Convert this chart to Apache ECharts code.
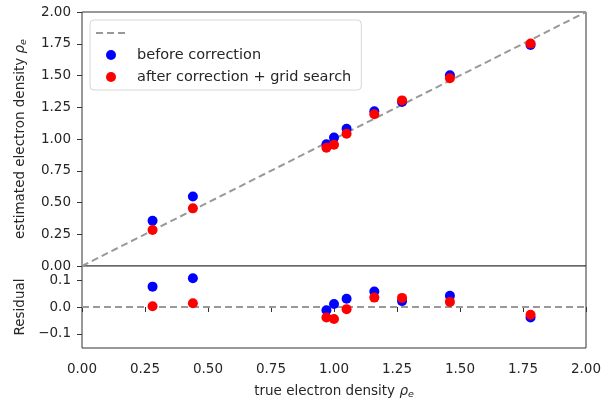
<!DOCTYPE html>
<html>
<head>
<meta charset="utf-8">
<script src="https://cdn.jsdelivr.net/npm/echarts@6/dist/echarts.min.js"></script>
<style>
  html, body { margin: 0; padding: 0; background: #fff; }
  #main { width: 609px; height: 401px; }
</style>
</head>
<body>
<div id="main"></div>
<script>
  // true electron density of each sample
  const trueDensity = [0.28, 0.44, 0.97, 1.00, 1.05, 1.16, 1.27, 1.46, 1.78]
  // estimated density
  const estBefore = [0.356, 0.547, 0.958, 1.011, 1.081, 1.218, 1.292, 1.502, 1.741]
  const estAfter = [0.283, 0.454, 0.931, 0.955, 1.042, 1.195, 1.304, 1.479, 1.751]
  // residuals
  const resBefore = [0.076, 0.107, -0.012, 0.011, 0.031, 0.058, 0.022, 0.042, -0.039]
  const resAfter = [0.003, 0.014, -0.039, -0.045, -0.008, 0.035, 0.034, 0.019, -0.029]
  const identityLine = [[0, 0], [2, 2]]
  const zeroLine = [[0, 0], [2, 0]]
  const residualTicks = [-0.1, 0, 0.1]

  const FONT = 'DejaVu Sans'
  const txt = '#262626'
  const pair = (xs, ys) => xs.map((x, i) => [x, ys[i]])

  const chart = echarts.init(document.getElementById('main'), null, { renderer: 'canvas' })

  const frame = { show: true, borderColor: '#333', borderWidth: 1, backgroundColor: '#fff' }
  const tick = { show: true, inside: false, length: 5, lineStyle: { color: '#333' } }
  const lbl = { color: txt, fontFamily: FONT, fontSize: 13.5 }
  const subRich = {
    i: { fontFamily: FONT, fontSize: 13.5, fontStyle: 'italic', color: txt },
    s: { fontFamily: FONT, fontSize: 9.5, fontStyle: 'italic', color: txt, padding: [7, 0, 0, 0] }
  }
  const dash = { color: '#999', width: 2, type: [7, 4] }

  const option = {
    animation: false,
    backgroundColor: '#fff',
    grid: [
      { left: 82, top: 12, width: 504, height: 254, ...frame },
      { left: 82, top: 266, width: 504, height: 84, ...frame }
    ],
    xAxis: [
      {
        gridIndex: 0, type: 'value', min: 0, max: 2, interval: 0.25,
        axisLine: { show: false }, axisTick: { show: false },
        axisLabel: { show: false }, splitLine: { show: false }
      },
      {
        gridIndex: 1, type: 'value', min: 0, max: 2, interval: 0.25,
        axisLine: { show: false }, axisTick: tick, splitLine: { show: false },
        axisLabel: { ...lbl, margin: 14, formatter: v => v.toFixed(2) },
        name: 'true electron density {i|ρ}{s|e}',
        nameLocation: 'middle', nameGap: 35,
        nameTextStyle: { fontFamily: FONT, fontSize: 13.5, color: txt, rich: subRich }
      }
    ],
    yAxis: [
      {
        gridIndex: 0, type: 'value', min: 0, max: 2, interval: 0.25,
        axisLine: { show: false }, axisTick: tick, splitLine: { show: false },
        axisLabel: { ...lbl, margin: 11, formatter: v => v.toFixed(2) },
        name: 'estimated electron density {i|ρ}{s|e}',
        nameLocation: 'middle', nameGap: 53,
        nameTextStyle: { fontFamily: FONT, fontSize: 13.5, color: txt, rich: subRich }
      },
      {
        gridIndex: 1, type: 'value', min: -0.153, max: 0.153,
        axisLine: { show: false }, splitLine: { show: false },
        axisTick: { ...tick, customValues: residualTicks },
        axisLabel: {
          ...lbl, margin: 11, customValues: residualTicks,
          formatter: v => (v < 0 ? '\u2212' : '') + Math.abs(v).toFixed(1)
        },
        name: 'Residual',
        nameLocation: 'middle', nameGap: 54,
        nameTextStyle: { fontFamily: FONT, fontSize: 13.5, color: txt }
      }
    ],
    legend: {
      orient: 'vertical',
      left: 90, top: 20,
      padding: [5, 10, 5, 5],
      itemGap: 6,
      itemWidth: 30, itemHeight: 10,
      backgroundColor: 'rgba(255,255,255,0.8)',
      borderColor: '#d6d6d6', borderWidth: 1, borderRadius: 4,
      textStyle: { fontFamily: FONT, fontSize: 14.5, color: txt, lineHeight: 16, padding: [0, 0, 0, 6] },
      data: [
        { name: ' ', itemStyle: { opacity: 0 } },
        { name: 'before correction', icon: 'circle' },
        { name: 'after correction + grid search', icon: 'circle' }
      ]
    },
    series: [
      {
        name: ' ', type: 'line', xAxisIndex: 0, yAxisIndex: 0,
        data: identityLine, symbol: 'none', z: 1,
        itemStyle: { color: '#999' },
        lineStyle: dash
      },
      {
        name: 'before correction', type: 'scatter', xAxisIndex: 0, yAxisIndex: 0,
        data: pair(trueDensity, estBefore), symbolSize: 10, z: 3,
        itemStyle: { color: '#0000ff', opacity: 1 }
      },
      {
        name: 'after correction + grid search', type: 'scatter', xAxisIndex: 0, yAxisIndex: 0,
        data: pair(trueDensity, estAfter), symbolSize: 10, z: 4,
        itemStyle: { color: '#ff0000', opacity: 1 }
      },
      {
        type: 'line', xAxisIndex: 1, yAxisIndex: 1,
        data: zeroLine, symbol: 'none', z: 1,
        itemStyle: { color: '#999' },
        lineStyle: dash
      },
      {
        type: 'scatter', xAxisIndex: 1, yAxisIndex: 1,
        data: pair(trueDensity, resBefore), symbolSize: 10, z: 3,
        itemStyle: { color: '#0000ff', opacity: 1 }
      },
      {
        type: 'scatter', xAxisIndex: 1, yAxisIndex: 1,
        data: pair(trueDensity, resAfter), symbolSize: 10, z: 4,
        itemStyle: { color: '#ff0000', opacity: 1 }
      }
    ]
  }

  chart.setOption(option)
</script>
</body>
</html>
